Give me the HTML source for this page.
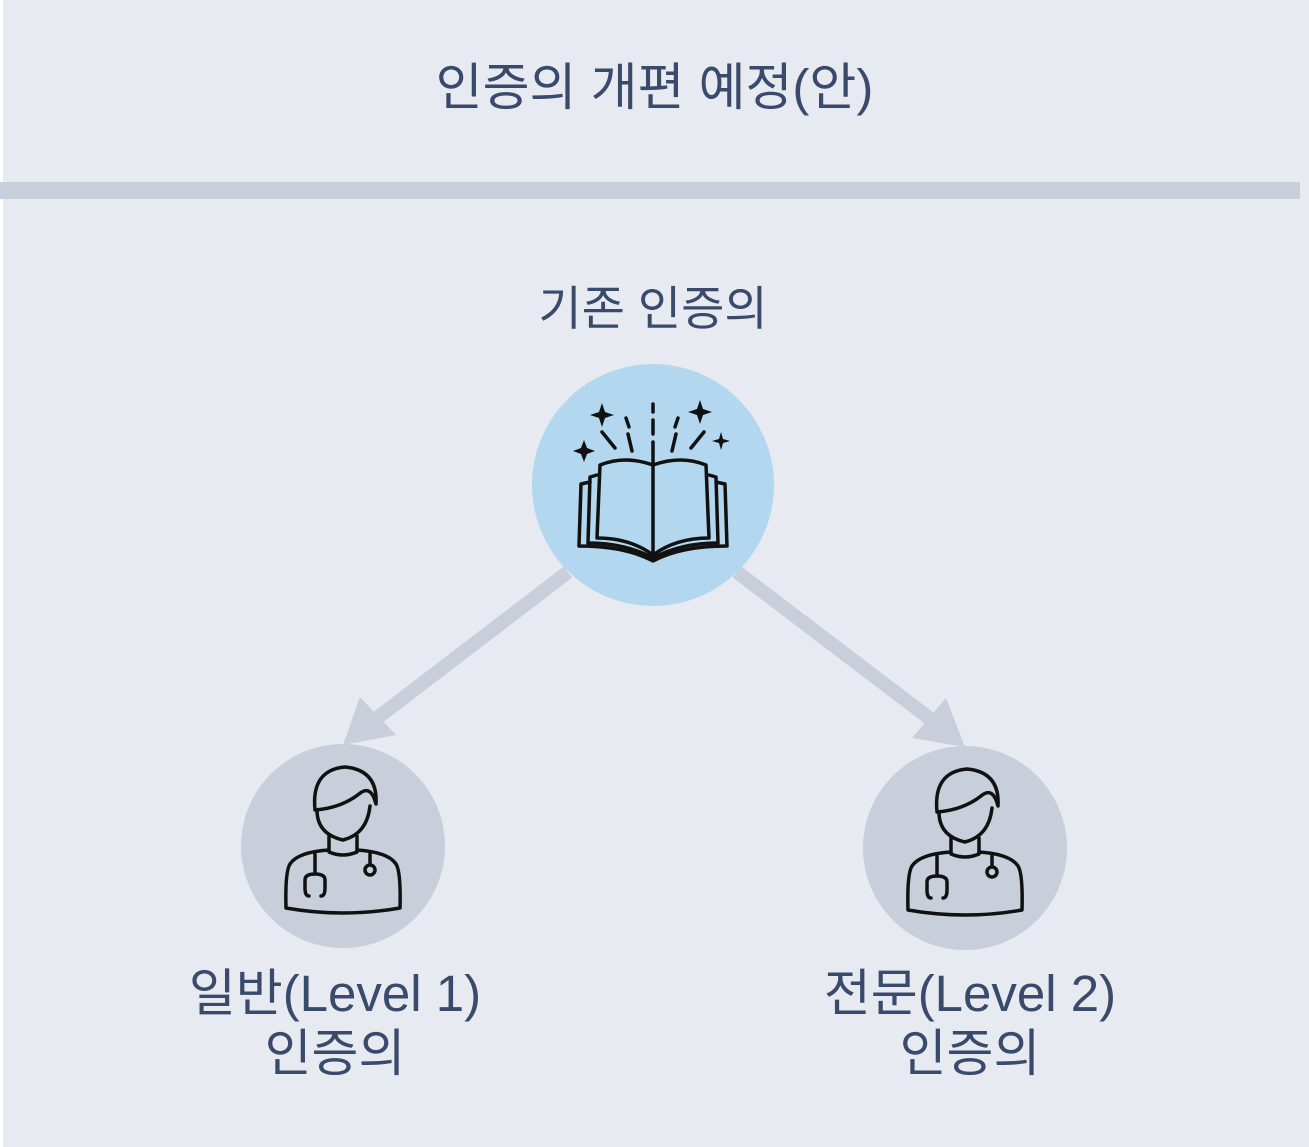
<!DOCTYPE html>
<html><head><meta charset="utf-8"><style>
body{margin:0;width:1309px;height:1147px;background:#fff;overflow:hidden}
.t{position:absolute;font-family:"Liberation Sans","Noto Sans CJK KR",sans-serif;color:#3a4a6b;text-align:center;white-space:nowrap}
</style></head><body>
<svg width="1309" height="1147" style="position:absolute;left:0;top:0">
<rect x="3" y="0" width="1306" height="1147" fill="#e7eaf0"/>
<rect x="0" y="182" width="1300" height="17" fill="#c8ceda"/>
<g stroke="#c9ceda" stroke-width="14">
<line x1="568" y1="572" x2="372" y2="722"/>
<line x1="737" y1="572" x2="937" y2="724"/>
</g>
<polygon points="343,745 360,697 396,735" fill="#c9ceda"/>
<polygon points="965,747 912,738 946,698" fill="#c9ceda"/>
<circle cx="653" cy="485" r="121" fill="#b3d7ee"/>
<circle cx="343" cy="846" r="102" fill="#c8ceda"/>
<circle cx="965" cy="848" r="102" fill="#c8ceda"/>
<g fill="none" stroke="#111" stroke-width="3.5" stroke-linecap="round" stroke-linejoin="round">
<path d="M653 555 L653 465 Q625 455 600 465 L597 538 Q630 538 653 555 Q676 538 709 538 L706 465 Q681 455 653 465"/>
<path d="M597 475 L590 477 L588 543 Q625 543 653 558 Q681 543 718 543 L716 477 L709 475"/>
<path d="M590 482 L581 484 L579 546 Q625 546 653 561 Q681 546 727 546 L725 484 L716 482"/>
<path d="M653 404v8M653 420v14M653 442v20M626 418l3 9M628 434l4 17M678 418l-3 9M676 434l-4 17M602 432l13 16M704 432l-13 16"/>
</g>
<g fill="#111">
<path d="M602 403l3 9 9 3-9 3-3 9-3-9-9-3 9-3z"/>
<path d="M700 400l3 9 9 3-9 3-3 9-3-9-9-3 9-3z"/>
<path d="M584 440l3 8 8 3-8 3-3 8-3-8-8-3 8-3z"/>
<path d="M721 432l2 7 7 2-7 2-2 7-2-7-7-2 7-2z"/>
</g>
<defs><g id="doc" fill="none" stroke="#111" stroke-width="3.5" stroke-linecap="round" stroke-linejoin="round">
<path d="M-28 -36 Q-32 -76 2 -79 Q35 -76 33 -42 Q28 -62 16 -52 Q-2 -38 -28 -36 Z"/>
<path d="M-26 -36 Q-26 -12 0 -6 Q24 -12 27 -40"/>
<path d="M-14 -10 V6 Q0 12 14 6 V-10"/>
<path d="M-14 4 Q-45 6 -53 18 Q-58 26 -57 62 Q0 72 57 62 Q58 26 53 18 Q45 6 14 4"/>
<path d="M-28 8 V28 M-34 50 Q-38 50 -38 42 V34 Q-38 28 -28 28 Q-18 28 -18 34 V42 Q-18 50 -22 50"/>
<path d="M27 8 V18"/><circle cx="27" cy="24" r="5"/>
</g></defs>
<use href="#doc" x="343" y="846"/>
<use href="#doc" x="965" y="848"/>
</svg>
<div class="t" style="left:0;width:1309px;top:46px;font-size:51px">인증의 개편 예정(안)</div>
<div class="t" style="left:0;width:1306px;top:270px;font-size:47px">기존 인증의</div>
<div class="t" style="left:85px;width:500px;top:964px;font-size:51px;line-height:60px">일반(Level 1)<br>인증의</div>
<div class="t" style="left:720px;width:500px;top:964px;font-size:51px;line-height:60px">전문(Level 2)<br>인증의</div>
</body></html>
